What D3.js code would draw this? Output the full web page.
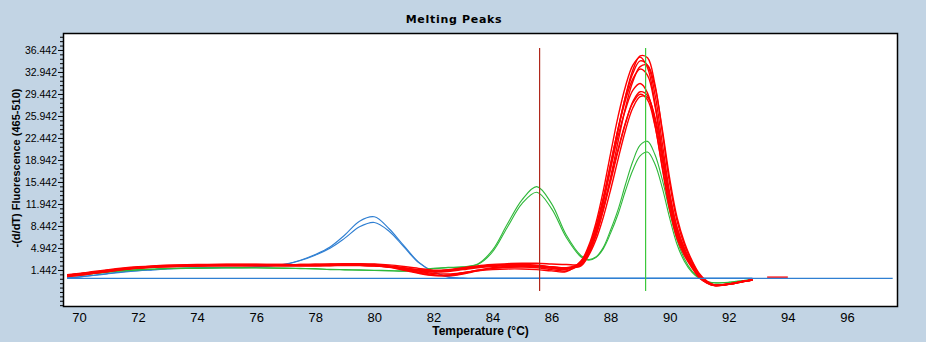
<!DOCTYPE html>
<html>
<head>
<meta charset="utf-8">
<script src="https://cdn.jsdelivr.net/npm/d3@7"></script>
<style>
  body { margin: 0; background: #c2d4e4; }
  svg { display: block; }
</style>
</head>
<body>
<div id="chart"></div>
<script>
// temperature grid shared by all sample curves (°C)
var temps = [69.6, 70.0, 70.5, 71.0, 71.5, 72.0, 72.5, 73.0, 74.0, 75.0, 76.0, 77.0, 77.5, 78.0, 78.5,
    79.0, 79.5, 80.0, 80.5, 81.0, 81.5, 82.0, 82.5, 83.0, 83.5, 84.0, 84.5, 85.0, 85.5, 86.0, 86.5,
    87.0, 87.25, 87.5, 87.75, 88.0, 88.25, 88.5, 88.75, 89.0, 89.25, 89.5, 89.75, 90.0, 90.25, 90.5,
    90.75, 91.0, 91.25, 91.5, 92.0, 92.5, 92.8];

// -(d/dT) fluorescence per sample
var blue1 = [0.2, 0.35, 0.6, 0.9, 1.15, 1.35, 1.5, 1.65, 1.8, 1.85, 1.95, 2.4, 3.0, 3.9, 5.1, 7.0, 9.2, 9.9, 8.0, 5.3, 2.7, 1.2, 0.35,
    0.15, 0.1, 0.1, 0.1, 0.1, 0.1, 0.1, 0.1, 0.1, 0.1, 0.1, 0.1, 0.1, 0.1, 0.1, 0.1, 0.1, 0.1, 0.1, 0.1, 0.1, 0.1, 0.1, 0.1, 0.1, 0.1, 0.1, 0.1, 0.1, 0.1];
var blue2 = [0.15, 0.3, 0.55, 0.85, 1.1, 1.3, 1.45, 1.6, 1.75, 1.8, 1.9, 2.35, 2.95, 3.8, 4.9, 6.5, 8.3, 9.0, 7.6, 5.1, 2.6, 1.15, 0.3,
    0.1, 0.1, 0.1, 0.1, 0.1, 0.1, 0.1, 0.1, 0.1, 0.1, 0.1, 0.1, 0.1, 0.1, 0.1, 0.1, 0.1, 0.1, 0.1, 0.1, 0.1, 0.1, 0.1, 0.1, 0.1, 0.1, 0.1, 0.1, 0.1, 0.1];

var green1 = [0.5, 0.65, 0.9, 1.15, 1.35, 1.5, 1.6, 1.7, 1.75, 1.8, 1.8, 1.75, 1.7, 1.65, 1.55, 1.5, 1.45, 1.4, 1.35, 1.3, 1.4, 1.7, 1.85, 1.95, 2.4, 4.6, 8.7, 12.6, 14.7, 12.0, 7.0,
    3.7, 3.1, 3.5, 5.0, 7.8, 11.0, 15.0, 18.7, 21.3, 21.9, 19.8, 15.8, 10.8, 6.2, 3.2, 1.3, 0.2, -0.4, -0.6, -0.55, -0.25, -0.1];
var green2 = [0.45, 0.6, 0.85, 1.1, 1.3, 1.45, 1.55, 1.65, 1.7, 1.75, 1.75, 1.7, 1.65, 1.6, 1.5, 1.45, 1.4, 1.35, 1.3, 1.25, 1.35, 1.65, 1.8, 1.9, 2.3, 4.3, 8.2, 12.0, 13.8, 11.2, 6.6,
    3.5, 3.0, 3.4, 4.8, 7.3, 10.3, 14.0, 17.3, 19.6, 20.2, 18.3, 14.5, 9.7, 5.5, 2.8, 1.1, 0.1, -0.45, -0.6, -0.5, -0.25, -0.1];

var red1 = [0.6, 0.8, 1.1, 1.4, 1.7, 1.9, 2.05, 2.15, 2.25, 2.3, 2.3, 2.3, 2.3, 2.35, 2.4, 2.45, 2.45, 2.4, 2.25, 2.0, 1.7, 1.4, 1.5, 1.8, 2.1, 2.3, 2.45, 2.5, 2.5, 2.4, 2.3,
    2.4, 4.2, 7.4, 12.0, 17.6, 23.6, 29.0, 33.2, 35.5, 35.2, 31.0, 23.4, 15.2, 9.2, 5.4, 2.8, 0.7, -0.4, -1.0, -0.8, -0.35, -0.15];
var red2 = [0.5, 0.7, 1.0, 1.3, 1.6, 1.8, 1.95, 2.05, 2.15, 2.2, 2.2, 2.2, 2.2, 2.2, 2.25, 2.3, 2.3, 2.25, 2.05, 1.7, 1.25, 0.9, 0.8, 1.0, 1.3, 1.5, 1.6, 1.6, 1.5, 1.3, 1.2,
    2.9, 5.2, 8.9, 14.0, 20.0, 25.8, 30.6, 34.0, 35.3, 33.6, 28.0, 20.0, 12.4, 7.2, 4.2, 2.0, 0.3, -0.6, -1.05, -0.85, -0.4, -0.15];
var red3 = [0.7, 0.9, 1.2, 1.5, 1.75, 1.95, 2.1, 2.2, 2.3, 2.35, 2.35, 2.3, 2.3, 2.3, 2.3, 2.35, 2.3, 2.2, 2.0, 1.6, 1.1, 0.7, 0.5, 0.8, 1.3, 1.7, 1.9, 2.0, 2.0, 1.9, 1.8,
    2.6, 4.6, 7.9, 12.6, 18.2, 23.9, 28.9, 32.7, 34.7, 34.0, 29.4, 21.6, 13.7, 8.1, 4.7, 2.3, 0.4, -0.5, -0.95, -0.8, -0.35, -0.1];
var red4 = [0.4, 0.6, 0.9, 1.2, 1.5, 1.75, 1.9, 2.0, 2.1, 2.15, 2.15, 2.15, 2.15, 2.15, 2.2, 2.2, 2.2, 2.15, 2.0, 1.75, 1.4, 1.2, 1.3, 1.6, 1.9, 2.1, 2.2, 2.2, 2.1, 1.9, 1.7,
    2.2, 3.9, 6.8, 11.0, 16.2, 21.8, 27.2, 31.4, 33.8, 34.0, 30.6, 23.8, 16.0, 9.8, 5.8, 3.0, 0.9, -0.3, -0.9, -0.8, -0.35, -0.15];
var red5 = [0.6, 0.8, 1.1, 1.4, 1.65, 1.85, 2.0, 2.1, 2.2, 2.25, 2.25, 2.25, 2.25, 2.3, 2.3, 2.3, 2.3, 2.2, 1.95, 1.5, 1.0, 0.6, 0.55, 0.9, 1.4, 1.8, 2.0, 2.1, 2.0, 1.7, 1.5,
    2.7, 4.8, 8.2, 12.9, 18.4, 23.8, 28.4, 31.8, 33.4, 32.4, 27.6, 20.2, 12.8, 7.6, 4.4, 2.2, 0.4, -0.5, -1.0, -0.8, -0.35, -0.15];
var red6 = [0.5, 0.7, 1.0, 1.3, 1.55, 1.75, 1.9, 2.0, 2.1, 2.15, 2.15, 2.1, 2.1, 2.1, 2.15, 2.2, 2.2, 2.1, 1.9, 1.6, 1.3, 1.1, 1.2, 1.5, 1.8, 2.0, 2.1, 2.1, 2.0, 1.8, 1.6,
    2.8, 4.9, 8.2, 12.6, 17.7, 22.7, 26.9, 30.0, 31.1, 29.6, 24.6, 17.6, 11.0, 6.4, 3.7, 1.8, 0.2, -0.6, -1.0, -0.85, -0.4, -0.15];
var red7 = [0.5, 0.7, 1.0, 1.3, 1.6, 1.8, 1.95, 2.05, 2.15, 2.2, 2.2, 2.2, 2.2, 2.25, 2.3, 2.35, 2.35, 2.3, 2.1, 1.8, 1.5, 1.3, 1.4, 1.7, 2.0, 2.2, 2.3, 2.3, 2.2, 1.95, 1.75,
    2.4, 4.2, 7.0, 10.9, 15.5, 20.3, 24.7, 28.2, 29.8, 29.2, 25.4, 18.9, 12.2, 7.3, 4.3, 2.1, 0.4, -0.5, -0.95, -0.8, -0.35, -0.15];
var red8 = [0.6, 0.8, 1.05, 1.35, 1.6, 1.8, 1.95, 2.05, 2.15, 2.2, 2.2, 2.2, 2.2, 2.2, 2.2, 2.25, 2.2, 2.1, 1.85, 1.4, 0.9, 0.55, 0.6, 1.0, 1.4, 1.7, 1.85, 1.9, 1.8, 1.5, 1.3,
    2.5, 4.4, 7.3, 11.3, 15.9, 20.6, 24.8, 28.0, 29.4, 28.5, 24.4, 17.9, 11.4, 6.8, 4.0, 2.0, 0.3, -0.55, -1.0, -0.85, -0.4, -0.15];
var red9 = [0.4, 0.6, 0.9, 1.2, 1.5, 1.7, 1.85, 1.95, 2.05, 2.1, 2.1, 2.1, 2.1, 2.1, 2.1, 2.15, 2.15, 2.1, 1.95, 1.7, 1.45, 1.3, 1.4, 1.7, 2.0, 2.15, 2.25, 2.25, 2.15, 1.95, 1.75,
    2.1, 3.7, 6.2, 9.8, 14.2, 19.0, 23.6, 27.2, 29.0, 28.9, 25.8, 19.9, 13.3, 8.2, 4.9, 2.5, 0.7, -0.4, -0.95, -0.8, -0.35, -0.1];

// blank well and a short trailing red segment
var baseT = [69.6, 97.55];
var baseV = [0.1, 0.1];
var tailT = [93.3, 94.0];
var tailV = [0.3, 0.3];

// Tm marker lines
var markerT = [85.58, 89.17];
var markerColors = ["#b0281c", "#3cc83c"];

var xTicks = [70, 72, 74, 76, 78, 80, 82, 84, 86, 88, 90, 92, 94, 96];
var yTicks = [1.442, 4.942, 8.442, 11.942, 15.442, 18.942, 22.442, 25.942, 29.442, 32.942, 36.442];

var W = 926, H = 342;
var margin = {top: 33, right: 28, bottom: 35, left: 63};
var width = W - margin.left - margin.right;
var height = H - margin.top - margin.bottom;

var x = d3.scaleLinear().domain([69.46, 97.73]).range([margin.left, margin.left + width]);
var y = d3.scaleLinear().domain([-4.45, 39.14]).range([margin.top + height, margin.top]);

var svg = d3.select("#chart").append("svg")
    .attr("width", W)
    .attr("height", H);

svg.append("rect")
    .attr("width", W).attr("height", H)
    .attr("fill", "#c2d4e4");

svg.append("rect")
    .attr("x", margin.left).attr("y", margin.top)
    .attr("width", width).attr("height", height)
    .attr("fill", "#ffffff");

svg.append("clipPath").attr("id", "plotclip")
    .append("rect")
    .attr("x", margin.left).attr("y", margin.top)
    .attr("width", width).attr("height", height);

function pairs(ts, vs) {
    return ts.map(function(t, i) { return {t: t, v: vs[i]}; });
}

var line = d3.line()
    .x(function(d) { return x(d.t); })
    .y(function(d) { return y(d.v); })
    .curve(d3.curveCatmullRom.alpha(0.5));

var plot = svg.append("g").attr("clip-path", "url(#plotclip)");

var curves = [
    {vals: blue1, color: "#2f7fd2", w: 1.1},
    {vals: blue2, color: "#2f7fd2", w: 1.1},
    {vals: green1, color: "#2fb83a", w: 1.1},
    {vals: green2, color: "#2fb83a", w: 1.1},
    {vals: red1, color: "#ff0000", w: 1.4},
    {vals: red2, color: "#ff0000", w: 1.4},
    {vals: red3, color: "#ff0000", w: 1.4},
    {vals: red4, color: "#ff0000", w: 1.4},
    {vals: red5, color: "#ff0000", w: 1.4},
    {vals: red6, color: "#ff0000", w: 1.4},
    {vals: red7, color: "#ff0000", w: 1.4},
    {vals: red8, color: "#ff0000", w: 1.4},
    {vals: red9, color: "#ff0000", w: 1.4}
];

plot.selectAll("path.curve")
    .data(curves)
    .enter()
    .append("path")
    .attr("class", "curve")
    .attr("d", function(c) { return line(pairs(temps, c.vals)); })
    .attr("fill", "none")
    .attr("stroke", function(c) { return c.color; })
    .attr("stroke-width", function(c) { return c.w; });

plot.append("path")
    .attr("d", line(pairs(tailT, tailV)))
    .attr("fill", "none").attr("stroke", "#ff0000").attr("stroke-width", 1.4);

plot.append("path")
    .attr("d", line(pairs(baseT, baseV)))
    .attr("fill", "none").attr("stroke", "#2f7fd2").attr("stroke-width", 1.1);

// vertical Tm markers
plot.selectAll("rect.tm")
    .data(markerT)
    .enter()
    .append("rect")
    .attr("class", "tm")
    .attr("x", function(d) { return Math.round(x(d)); })
    .attr("y", y(36.75))
    .attr("width", 1.2)
    .attr("height", y(-1.9) - y(36.75))
    .attr("fill", function(d, i) { return markerColors[i]; });

// plot frame
svg.append("rect")
    .attr("x", margin.left + 0.5).attr("y", margin.top + 0.5)
    .attr("width", width - 1).attr("height", height - 1)
    .attr("fill", "none")
    .attr("stroke", "#000")
    .attr("stroke-width", 1.5);

// y axis: labelled ticks plus minor ticks every 0.7
var yAxis = d3.axisLeft(y)
    .tickValues(yTicks)
    .tickFormat(d3.format(".3f"))
    .tickSize(5)
    .tickPadding(1);

var gy = svg.append("g")
    .attr("transform", "translate(" + margin.left + ",0)")
    .call(yAxis);
gy.select(".domain").remove();
gy.selectAll("text")
    .style("font-family", "'Liberation Sans', Arial, sans-serif")
    .style("font-size", "10.5px")
    .attr("fill", "#000");

var minor = d3.range(-4.158, 39.1, 0.7).filter(function(v) {
    return yTicks.every(function(t) { return Math.abs(t - v) > 0.01; });
});
var gyMinor = svg.append("g")
    .attr("transform", "translate(" + margin.left + ",0)")
    .call(d3.axisLeft(y).tickValues(minor).tickSize(3).tickFormat(""));
gyMinor.select(".domain").remove();

// x axis
var xAxis = d3.axisBottom(x)
    .tickValues(xTicks)
    .tickSize(0)
    .tickPadding(6);

var gx = svg.append("g")
    .attr("transform", "translate(0," + (margin.top + height) + ")")
    .call(xAxis);
gx.select(".domain").remove();
gx.selectAll("text")
    .style("font-family", "'Liberation Sans Narrow', 'Arial Narrow', 'Liberation Sans', sans-serif")
    .style("font-size", "13px")
    .attr("fill", "#000");

// titles
svg.append("text")
    .attr("x", 454)
    .attr("y", 23)
    .attr("text-anchor", "middle")
    .style("font-family", "'DejaVu Sans', Verdana, sans-serif")
    .style("font-weight", "bold")
    .style("font-size", "11px")
    .style("letter-spacing", "0.7px")
    .text("Melting Peaks");

svg.append("text")
    .attr("x", margin.left + width / 2)
    .attr("y", 335)
    .attr("text-anchor", "middle")
    .style("font-family", "'Liberation Sans', Arial, sans-serif")
    .style("font-weight", "bold")
    .style("font-size", "12px")
    .text("Temperature (°C)");

svg.append("text")
    .attr("transform", "translate(20,168) rotate(-90)")
    .attr("text-anchor", "middle")
    .style("font-family", "'Liberation Sans', Arial, sans-serif")
    .style("font-weight", "bold")
    .style("font-size", "11px")
    .text("-(d/dT) Fluorescence (465-510)");
</script>
</body>
</html>
